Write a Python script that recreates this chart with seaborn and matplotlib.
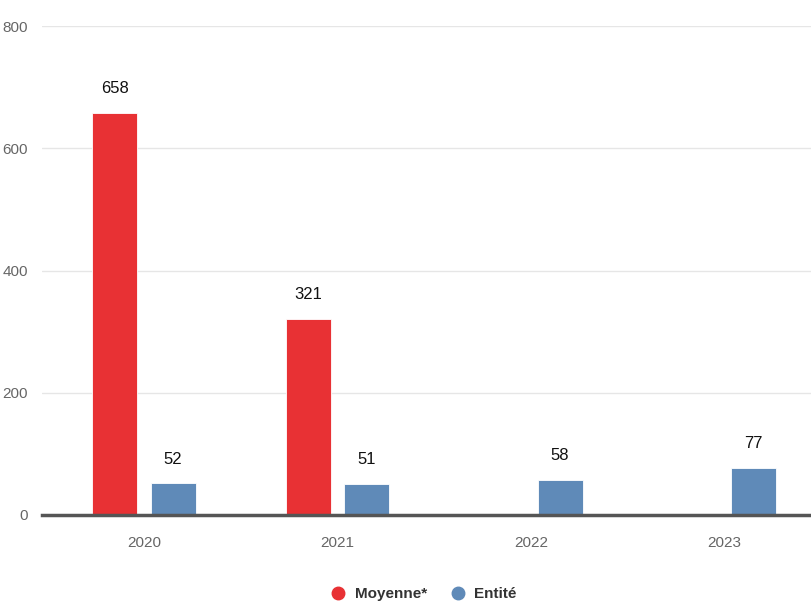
import matplotlib
matplotlib.use("Agg")
import matplotlib.pyplot as plt
from matplotlib.lines import Line2D
import seaborn as sns
import pandas as pd
import numpy as np

years = ["2020", "2021", "2022", "2023"]
moyenne = [658, 321, np.nan, np.nan]
entite = [52, 51, 58, 77]
series_names = ["Moyenne*", "Entité"]
colors = ["#E83134", "#5F8AB8"]
y_ticks = [0, 200, 400, 600, 800]

sns.set_theme(style="white")
plt.rcParams["font.family"] = ["Liberation Sans Narrow", "DejaVu Sans Condensed", "Liberation Sans", "DejaVu Sans"]

df = pd.DataFrame({
    "year": years * 2,
    "serie": [series_names[0]] * 4 + [series_names[1]] * 4,
    "value": moyenne + entite,
})

fig = plt.figure(figsize=(8.12, 6.06), dpi=100)
ax = fig.add_axes([42 / 812, 1 - 515 / 606, 1 - 42 / 812, (515 - 26) / 606])

sns.barplot(data=df, x="year", y="value", hue="serie", palette=colors,
            width=0.6, gap=0.225, saturation=1, legend=False, ax=ax,
            edgecolor="white", linewidth=0.6)

for cont in ax.containers:
    labels = ["" if np.isnan(v) else f"{int(v)}" for v in cont.datavalues]
    ax.bar_label(cont, labels=labels, padding=12, fontsize=12, color="#111111")

ax.set_ylim(0, 800)
ax.set_xlim(-0.527, 3.452)
ax.set_yticks(y_ticks)
ax.set_yticklabels([str(t) for t in y_ticks])
ax.yaxis.grid(True, color="#e6e6e6", linewidth=1)
ax.set_axisbelow(True)
ax.set_xlabel("")
ax.set_ylabel("")

for side in ["top", "right", "left"]:
    ax.spines[side].set_visible(False)
ax.spines["bottom"].set_color("#555555")
ax.spines["bottom"].set_linewidth(2.5)
ax.spines["bottom"].set_zorder(5)

ax.tick_params(axis="y", length=0, pad=10, labelsize=11, labelcolor="#666666")
ax.tick_params(axis="x", length=9, width=1, color="#ccd6eb", pad=6,
               labelsize=11, labelcolor="#666666")

handles = [Line2D([], [], marker="o", linestyle="", markersize=9,
                  markerfacecolor=c, markeredgecolor=c) for c in colors]
fig.legend(handles, series_names, loc="center", bbox_to_anchor=(0.517, 1 - 594 / 606),
           ncol=2, frameon=False, handletextpad=0.1, columnspacing=1.0,
           prop={"size": 11, "weight": "bold"}, labelcolor="#333333")

fig.savefig("out.png", dpi=100)
